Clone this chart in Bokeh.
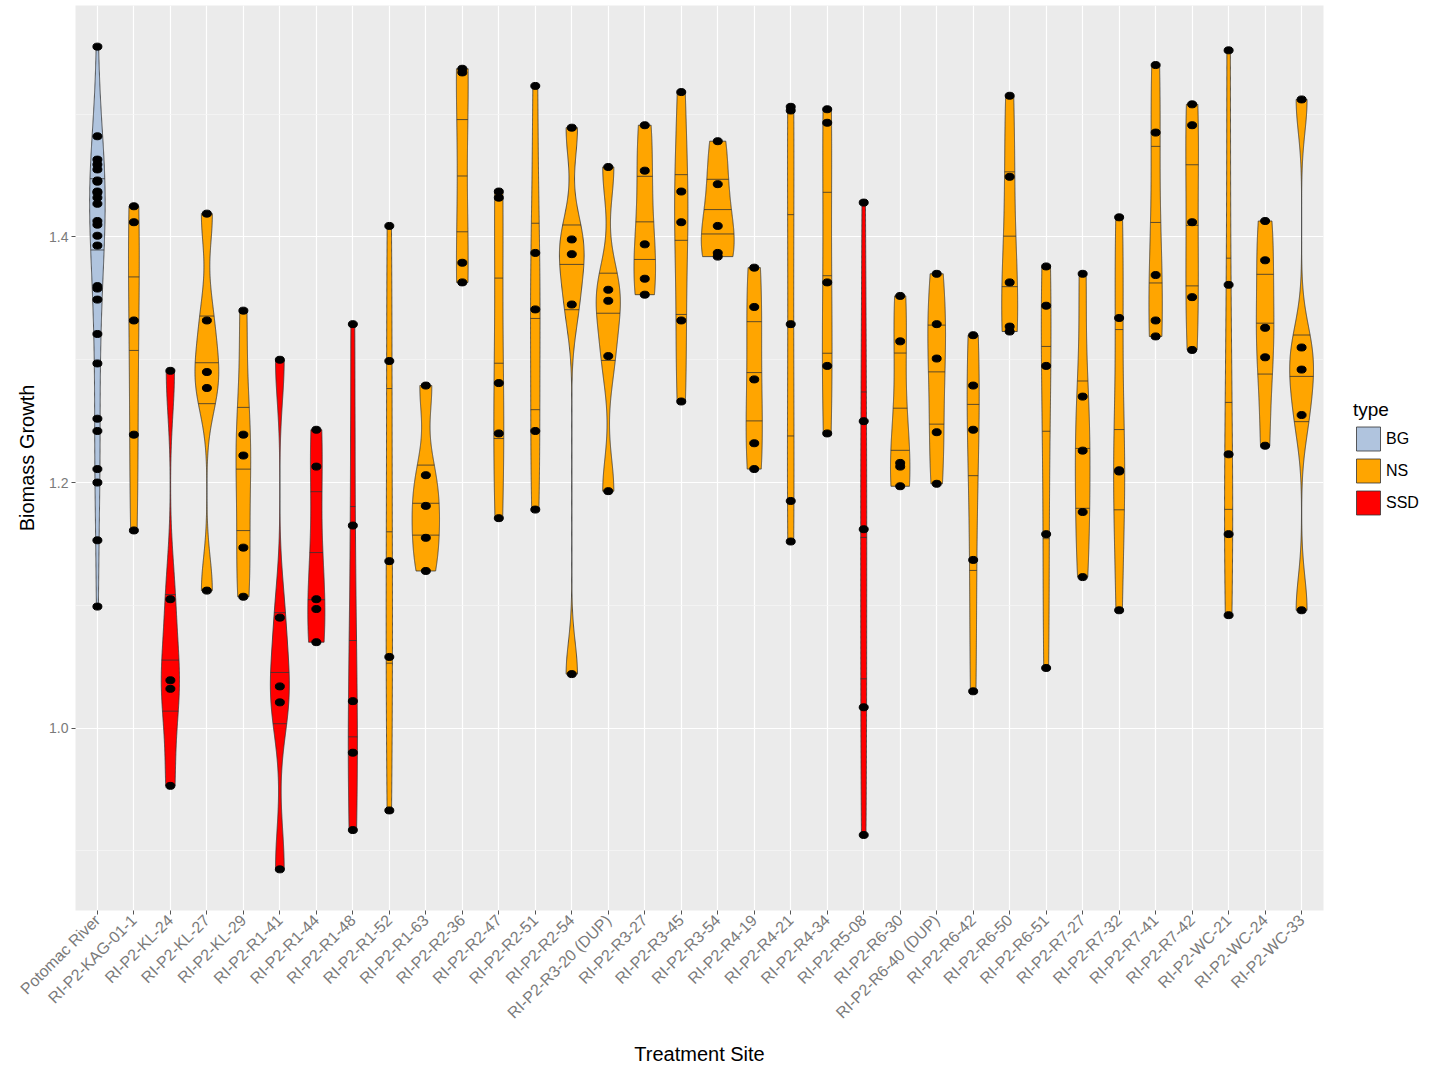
import numpy as np
from bokeh.plotting import figure
from bokeh.models import Range1d, FixedTicker, Legend, LegendItem
from bokeh.embed import file_html
from bokeh.resources import INLINE

sites = ["Potomac River", "RI-P2-KAG-01-1", "RI-P2-KL-24", "RI-P2-KL-27", "RI-P2-KL-29",
         "RI-P2-R1-41", "RI-P2-R1-44", "RI-P2-R1-48", "RI-P2-R1-52", "RI-P2-R1-63",
         "RI-P2-R2-36", "RI-P2-R2-47", "RI-P2-R2-51", "RI-P2-R2-54", "RI-P2-R3-20 (DUP)",
         "RI-P2-R3-27", "RI-P2-R3-45", "RI-P2-R3-54", "RI-P2-R4-19", "RI-P2-R4-21",
         "RI-P2-R4-34", "RI-P2-R5-08", "RI-P2-R6-30", "RI-P2-R6-40 (DUP)", "RI-P2-R6-42",
         "RI-P2-R6-50", "RI-P2-R6-51", "RI-P2-R7-27", "RI-P2-R7-32", "RI-P2-R7-41",
         "RI-P2-R7-42", "RI-P2-WC-21", "RI-P2-WC-24", "RI-P2-WC-33"]

site_type = ["BG", "NS", "SSD", "NS", "NS", "SSD", "SSD", "SSD", "NS", "NS",
             "NS", "NS", "NS", "NS", "NS", "NS", "NS", "NS", "NS", "NS",
             "NS", "SSD", "NS", "NS", "NS", "NS", "NS", "NS", "NS", "NS",
             "NS", "NS", "NS", "NS"]

growth = [
    [1.555, 1.482, 1.463, 1.459, 1.455, 1.446, 1.445, 1.437, 1.436, 1.432, 1.427, 1.413, 1.410,
     1.401, 1.393, 1.360, 1.358, 1.349, 1.321, 1.297, 1.252, 1.242, 1.211, 1.200, 1.153, 1.099],
    [1.425, 1.412, 1.332, 1.239, 1.161],
    [1.291, 1.105, 1.039, 1.032, 0.953],
    [1.419, 1.332, 1.290, 1.277, 1.112],
    [1.340, 1.239, 1.222, 1.147, 1.107],
    [1.300, 1.090, 1.034, 1.021, 0.885],
    [1.243, 1.213, 1.105, 1.097, 1.070],
    [1.329, 1.165, 1.022, 0.980, 0.917],
    [1.409, 1.299, 1.136, 1.058, 0.933],
    [1.279, 1.206, 1.181, 1.155, 1.128],
    [1.537, 1.534, 1.379, 1.363],
    [1.437, 1.432, 1.281, 1.240, 1.171],
    [1.523, 1.387, 1.341, 1.242, 1.178],
    [1.489, 1.398, 1.386, 1.345, 1.044],
    [1.457, 1.357, 1.348, 1.303, 1.193],
    [1.491, 1.454, 1.394, 1.366, 1.353],
    [1.518, 1.437, 1.412, 1.332, 1.266],
    [1.478, 1.443, 1.409, 1.387, 1.384],
    [1.375, 1.343, 1.284, 1.232, 1.211],
    [1.506, 1.503, 1.329, 1.185, 1.152],
    [1.504, 1.493, 1.363, 1.295, 1.240],
    [1.428, 1.250, 1.162, 1.017, 0.913],
    [1.352, 1.315, 1.216, 1.213, 1.197],
    [1.370, 1.329, 1.301, 1.241, 1.199],
    [1.320, 1.279, 1.243, 1.137, 1.030],
    [1.515, 1.449, 1.363, 1.327, 1.323],
    [1.376, 1.344, 1.295, 1.158, 1.049],
    [1.370, 1.270, 1.226, 1.176, 1.123],
    [1.416, 1.334, 1.210, 1.209, 1.096],
    [1.540, 1.485, 1.369, 1.332, 1.319],
    [1.508, 1.491, 1.412, 1.351, 1.308],
    [1.552, 1.361, 1.223, 1.158, 1.092],
    [1.413, 1.381, 1.326, 1.302, 1.230],
    [1.512, 1.310, 1.292, 1.255, 1.096],
]

type_names = ["BG", "NS", "SSD"]
type_colors = ["#B0C4DE", "#FFA500", "#FF0000"]

y_major = [1.0, 1.2, 1.4]
y_minor = [0.9, 1.1, 1.3, 1.5]

FONT = "Liberation Sans"


def bw_nrd0(v):
    n = len(v)
    hi = np.std(v, ddof=1)
    q75, q25 = np.percentile(v, [75, 25])
    lo = min(hi, (q75 - q25) / 1.34)
    if lo <= 0:
        lo = hi if hi > 0 else 1.0
    return 0.9 * lo * n ** -0.2


dens = []
for vals in growth:
    v = np.asarray(vals, dtype=float)
    bw = bw_nrd0(v)
    grid = np.linspace(v.min(), v.max(), 512)
    d = np.exp(-0.5 * ((grid[:, None] - v[None, :]) / bw) ** 2).sum(axis=1) / (len(v) * bw * np.sqrt(2 * np.pi))
    dens.append((grid, d))
dmax = max(d.max() for _, d in dens)

all_vals = np.concatenate([np.asarray(g) for g in growth])
span = all_vals.max() - all_vals.min()
ymin = all_vals.min() - 0.05 * span
ymax = all_vals.max() + 0.05 * span
n_sites = len(sites)

p = figure(frame_width=1248, frame_height=905,
           x_range=Range1d(0.4, n_sites + 0.6), y_range=Range1d(ymin, ymax),
           output_backend="svg", toolbar_location=None,
           min_border_left=75, min_border_top=5, min_border_bottom=150, min_border_right=5)

p.background_fill_color = "#EBEBEB"
p.border_fill_color = "white"
p.outline_line_color = None

xt = FixedTicker(ticks=list(range(1, n_sites + 1)))
yt = FixedTicker(ticks=y_major, minor_ticks=y_minor)
p.xaxis.ticker = xt
p.yaxis.ticker = yt
p.xgrid.ticker = xt
p.ygrid.ticker = yt
p.xaxis.major_label_overrides = {i + 1: s for i, s in enumerate(sites)}
p.yaxis.major_label_overrides = {t: f"{t:.1f}" for t in y_major}

for g in (p.xgrid, p.ygrid):
    g.grid_line_color = "white"
    g.grid_line_width = 1.2
p.ygrid.minor_grid_line_color = "#F5F5F5"
p.ygrid.minor_grid_line_width = 0.8

for ax in (p.xaxis, p.yaxis):
    ax.axis_line_color = None
    ax.major_tick_line_color = "#555555"
    ax.major_tick_in = 0
    ax.major_tick_out = 4
    ax.minor_tick_line_color = None
    ax.major_label_text_font = FONT
    ax.major_label_text_color = "#7A7A7A"
    ax.axis_label_text_font = FONT
    ax.axis_label_text_font_size = "20px"
    ax.axis_label_text_font_style = "normal"
    ax.axis_label_text_color = "black"
    ax.major_label_standoff = 3

p.xaxis.major_label_text_font_size = "16px"
p.yaxis.major_label_text_font_size = "14px"
p.xaxis.major_label_orientation = np.pi / 4
p.xaxis.axis_label = "Treatment Site"
p.yaxis.axis_label = "Biomass Growth"
p.xaxis.axis_label_standoff = 12
p.yaxis.axis_label_standoff = 8

legend_items = []
for tname, tcolor in zip(type_names, type_colors):
    xs, ys = [], []
    for i, (grid, d) in enumerate(dens):
        if site_type[i] != tname:
            continue
        c = i + 1
        half = d / dmax * 0.45
        xs.append(list(np.concatenate([c - half, (c + half)[::-1]])))
        ys.append(list(np.concatenate([grid, grid[::-1]])))
    r = p.patches(xs, ys, fill_color=tcolor, line_color="#333333", line_width=0.8)
    legend_items.append(LegendItem(label=tname, renderers=[r]))

qx0, qx1, qy = [], [], []
for i, (grid, d) in enumerate(dens):
    c = i + 1
    half = d / dmax * 0.45
    ecdf = np.cumsum(d) / np.sum(d)
    for q in (0.25, 0.5, 0.75):
        yq = float(np.interp(q, ecdf, grid))
        hq = float(np.interp(yq, grid, half))
        qx0.append(c - hq)
        qx1.append(c + hq)
        qy.append(yq)
p.segment(x0=qx0, y0=qy, x1=qx1, y1=qy, line_color="#333333", line_width=0.8)

px, py = [], []
for i, vals in enumerate(growth):
    for v in vals:
        px.append(i + 1)
        py.append(v)
p.ellipse(x=px, y=py, width=9, height=7, width_units="screen", height_units="screen",
          fill_color="black", line_color="black")

legend = Legend(items=legend_items, location="center_left")
legend.title = "type"
legend.title_text_font = FONT
legend.title_text_font_size = "19px"
legend.title_text_font_style = "normal"
legend.title_text_color = "black"
legend.title_standoff = 3
legend.label_text_font = FONT
legend.label_text_font_size = "16px"
legend.label_text_color = "black"
legend.glyph_width = 30
legend.glyph_height = 30
legend.spacing = 2
legend.label_standoff = 3
legend.padding = 0
legend.margin = 30
legend.border_line_color = None
legend.background_fill_alpha = 0
p.add_layout(legend, "right")

open("out.html", "w").write(file_html(p, INLINE))
